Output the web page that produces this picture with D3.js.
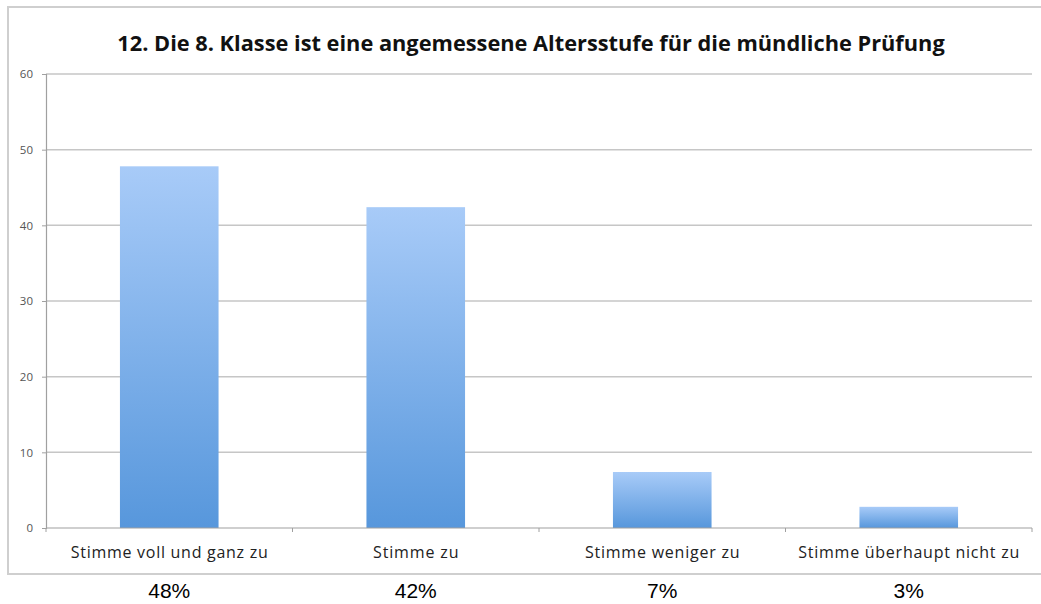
<!DOCTYPE html>
<html>
<head>
  <meta charset="utf-8">
  <title>Altersstufe</title>
  <script src="https://d3js.org/d3.v7.min.js"></script>
  <style>
    body { margin: 0; background: #fff; }
  </style>
</head>
<body>
<script type="text/javascript">
var categories = ["Stimme voll und ganz zu", "Stimme zu", "Stimme weniger zu", "Stimme überhaupt nicht zu"];
var values = [47.8, 42.4, 7.4, 2.8];
var percentLabels = ["48%", "42%", "7%", "3%"];
var yTicks = [0, 10, 20, 30, 40, 50, 60];
var title = "12. Die 8. Klasse ist eine angemessene Altersstufe für die mündliche Prüfung";

var width = 1041, height = 604;
var plot = {left: 46, right: 1032, top: 74, bottom: 528};

var svg = d3.select("body").append("svg")
    .attr("width", width)
    .attr("height", height);

// gradient for bars
var grad = svg.append("defs").append("linearGradient")
    .attr("id", "barGrad")
    .attr("x1", 0).attr("y1", 0).attr("x2", 0).attr("y2", 1);
grad.append("stop").attr("offset", "0%").attr("stop-color", "#a8cbf8");
grad.append("stop").attr("offset", "100%").attr("stop-color", "#5797dc");

// outer frame
svg.append("rect")
    .attr("x", 8).attr("y", 7)
    .attr("width", 1045).attr("height", 567)
    .attr("fill", "#fff")
    .attr("stroke", "#cfcfcf")
    .attr("stroke-width", 2);

var x = d3.scaleBand()
    .domain(categories)
    .range([plot.left, plot.right])
    .paddingInner(0.6)
    .paddingOuter(0.3);

var y = d3.scaleLinear()
    .domain([0, 60])
    .range([plot.bottom, plot.top]);

// grid lines
svg.append("g")
  .selectAll("line")
  .data(yTicks.filter(function(d) { return d > 0; }))
  .enter().append("line")
    .attr("x1", plot.left).attr("x2", plot.right)
    .attr("y1", function(d) { return y(d); })
    .attr("y2", function(d) { return y(d); })
    .attr("stroke", "#c6c6c6")
    .attr("stroke-width", 1.5);

// y axis
var yAxis = svg.append("g")
    .attr("transform", "translate(" + plot.left + ",0)")
    .call(d3.axisLeft(y).tickValues(yTicks).tickSize(4).tickPadding(9));
yAxis.select(".domain").attr("stroke", "#a0a0a0").attr("stroke-width", 1.2);
yAxis.selectAll(".tick line").attr("stroke", "#a0a0a0");
yAxis.selectAll("text")
    .attr("font-family", "Open Sans, sans-serif")
    .attr("font-size", 11.5)
    .attr("fill", "#555");

// bars
svg.append("g")
  .selectAll("rect")
  .data(values)
  .enter().append("rect")
    .attr("x", function(d, i) { return x(categories[i]); })
    .attr("y", function(d) { return y(d); })
    .attr("width", x.bandwidth())
    .attr("height", function(d) { return y(0) - y(d); })
    .attr("fill", "url(#barGrad)");

// x axis
var step = (plot.right - plot.left) / categories.length;
var xAxis = svg.append("g")
    .attr("transform", "translate(0," + plot.bottom + ")");
xAxis.append("line")
    .attr("x1", plot.left).attr("x2", plot.right)
    .attr("stroke", "#a0a0a0").attr("stroke-width", 1.2);
xAxis.selectAll(".tk")
  .data(d3.range(categories.length + 1))
  .enter().append("line")
    .attr("class", "tk")
    .attr("x1", function(i) { return plot.left + i * step; })
    .attr("x2", function(i) { return plot.left + i * step; })
    .attr("y1", 0).attr("y2", 4)
    .attr("stroke", "#a0a0a0");

var cats = xAxis.selectAll(".cat")
  .data(categories)
  .enter().append("text")
    .attr("class", "cat")
    .attr("x", function(d) { return x(d) + x.bandwidth() / 2; })
    .attr("y", 30)
    .attr("text-anchor", "middle")
    .attr("font-family", "Open Sans, sans-serif")
    .attr("font-size", 16)
    .attr("fill", "#222")
    .text(function(d) { return d; });
// stretch labels a bit to match the wide original
var w0 = cats.node().getComputedTextLength();
var ratio = 197 / w0;
cats.attr("textLength", function() { return this.getComputedTextLength() * ratio; })
    .attr("lengthAdjust", "spacing");

// title
var t = svg.append("text")
    .attr("x", 531)
    .attr("y", 51)
    .attr("text-anchor", "middle")
    .attr("font-family", "Open Sans, sans-serif")
    .attr("font-weight", "bold")
    .attr("font-size", 18)
    .attr("fill", "#111")
    .text(title);
var tw = t.node().getComputedTextLength();
t.attr("font-size", 18 * 828 / tw);

// percentages under the chart
svg.append("g")
  .selectAll("text")
  .data(percentLabels)
  .enter().append("text")
    .attr("x", function(d, i) { return x(categories[i]) + x.bandwidth() / 2; })
    .attr("y", 598)
    .attr("text-anchor", "middle")
    .attr("font-family", "Liberation Sans, Arial, sans-serif")
    .attr("font-size", 21)
    .attr("fill", "#000")
    .text(function(d) { return d; });
</script>
</body>
</html>
